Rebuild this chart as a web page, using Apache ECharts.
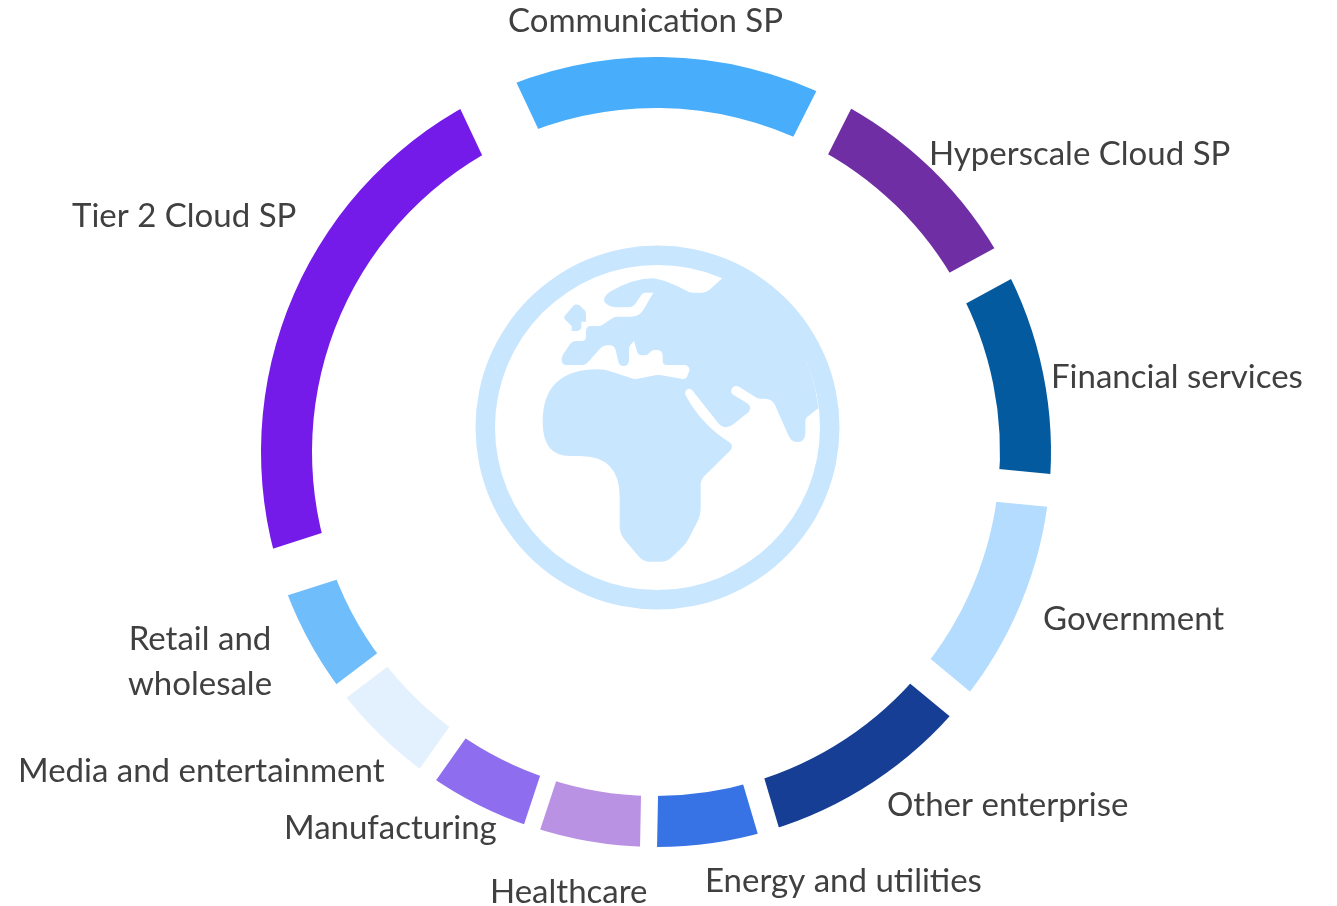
<!DOCTYPE html>
<html>
<head>
<meta charset="utf-8">
<title>Segments</title>
<style>
    html, body { margin: 0; padding: 0; background: #fff; }
    #chart { width: 1337px; height: 906px; }
</style>
<script src="https://cdn.jsdelivr.net/npm/echarts@6/dist/echarts.min.js"></script>
</head>
<body>
<div id="chart"></div>
<script>
    // share of the ring in %
    const categories = ['Communication SP', 'Hyperscale Cloud SP', 'Financial services', 'Government', 'Other enterprise',
        'Energy and utilities', 'Healthcare', 'Manufacturing', 'Media and entertainment', 'Retail and\nwholesale', 'Tier 2 Cloud SP'];
    const shares = [14.44, 9.64, 9.47, 9.47, 9.39, 4.89, 4.78, 4.72, 4.86, 5.42, 22.92];
    const colors = ['#48ADFB', '#702EA5', '#045A9E', '#B4DCFE', '#153E94', '#3873E6', '#B992E3', '#8E6DEF', '#E3F0FD', '#6FBDFB', '#741BEA'];
    // white gap after each slice, px
    const gaps = [39, 35, 33, 32, 22, 17, 17, 20, 17, 49, 62];
    // label anchors: x, y, align
    const labelSpots = [[508, 21, 'left'], [929, 154, 'left'], [1051, 377, 'left'], [1043, 619, 'left'], [887, 805, 'left'],
        [705, 881, 'left'], [490, 892, 'left'], [284, 828, 'left'], [18, 771, 'left'], [200, 662, 'center'], [72, 216, 'left']];

    const centerX = 656, centerY = 452;
    const startAngle = 115.2;
    const globeColor = '#C9E6FF';

    // globe outline (3x coords, origin 470,240)
    const landPath = 'M760 112 A487 487 0 0 1 1045 505 L1012 530 Q1006 535 1006 545 L1006 580 Q1005 606 982 606 Q965 606 956 588 L915 495 Q905 476 885 476 L870 476 Q862 476 855 470 L808 441 Q795 434 786 445 Q778 458 792 466 L832 490 Q848 502 835 517 L790 553 Q765 572 745 550 L668 452 Q660 443 650 449 Q642 456 648 468 Q695 555 780 608 Q792 618 780 632 L703 708 Q692 720 692 735 L692 800 Q692 825 682 845 L655 898 Q648 912 638 920 L606 951 Q592 965 575 965 L540 965 Q520 965 507 950 L462 897 Q449 880 449 855 L449 770 Q449 648 330 648 L300 648 Q218 648 218 545 Q218 388 385 388 Q405 388 425 395 L485 415 Q493 418 503 416 L555 406 Q565 404 575 406 L638 417 Q650 418 653 405 L658 392 Q660 378 645 375 L592 375 Q578 375 578 362 L578 345 Q575 330 562 330 L555 330 Q545 330 540 337 Q533 346 525 346 L515 346 Q505 346 502 337 L492 303 L481 315 Q477 320 477 328 L477 362 Q475 378 461 378 Q448 378 445 365 L437 330 Q433 316 420 316 L410 316 Q400 316 392 324 L355 365 Q347 375 335 375 L290 375 Q275 375 275 360 Q275 350 280 342 L300 313 Q307 303 320 303 L335 303 Q348 302 348 290 L348 272 Q350 258 362 258 L385 258 Q392 258 398 254 L428 234 Q434 230 442 230 L482 230 Q508 230 520 210 L550 158 L525 158 Q518 158 514 165 L497 190 Q490 202 475 202 L437 202 Q415 200 403 185 Q398 170 420 155 Q490 115 550 115 Q590 120 655 155 Q662 158 670 158 L695 158 Q708 158 718 150 Z ' +
        'M284 228 L310 197 Q320 190 330 197 L343 210 Q348 215 348 222 L348 245 L334 245 L334 262 Q332 273 320 273 L305 273 L305 258 L287 240 Q280 235 284 228 Z';

    const chart = echarts.init(document.getElementById('chart'));

    let total = shares.reduce((a, b) => a + b, 0);
    let running = 0;
    let gapData = shares.map((v, i) => {
        running += v;
        return [running, gaps[i]];
    });

    chart.setOption({
        animation: false,
        backgroundColor: '#fff',
        polar: { center: [centerX, centerY], radius: 420 },
        radiusAxis: { min: 0, max: 420, show: false },
        angleAxis: { type: 'value', min: 0, max: total, startAngle: startAngle, show: false },
        series: [
            {
                type: 'pie',
                center: [centerX, centerY],
                radius: [344, 395],
                startAngle: startAngle,
                clockwise: true,
                silent: true,
                avoidLabelOverlap: false,
                data: categories.map((name, i) => ({
                    name: name,
                    value: shares[i],
                    itemStyle: { color: colors[i] }
                })),
                label: {
                    show: true,
                    position: 'outside',
                    fontFamily: 'Lato',
                    fontSize: 33,
                    lineHeight: 45,
                    color: '#404040'
                },
                labelLine: { show: false },
                labelLayout: (params) => {
                    let spot = labelSpots[params.dataIndex];
                    return { x: spot[0], y: spot[1], align: spot[2], verticalAlign: 'middle', hideOverlap: false };
                }
            },
            {
                // parallel white gaps between slices
                type: 'custom',
                coordinateSystem: 'polar',
                silent: true,
                z: 3,
                clip: false,
                data: gapData,
                renderItem: (params, api) => {
                    let from = api.coord([335, api.value(0)]);
                    let to = api.coord([405, api.value(0)]);
                    return {
                        type: 'line',
                        shape: { x1: from[0], y1: from[1], x2: to[0], y2: to[1] },
                        style: { stroke: '#fff', lineWidth: api.value(1) }
                    };
                }
            },
            {
                // globe in the middle
                type: 'custom',
                coordinateSystem: 'none',
                silent: true,
                data: [[0]],
                renderItem: () => ({
                    type: 'group',
                    children: [
                        {
                            type: 'ring',
                            shape: { cx: 657.5, cy: 427.5, r: 182, r0: 162.5 },
                            style: { fill: globeColor }
                        },
                        {
                            type: 'path',
                            x: 470,
                            y: 240,
                            scaleX: 1 / 3,
                            scaleY: 1 / 3,
                            shape: { pathData: landPath },
                            style: { fill: globeColor }
                        }
                    ]
                })
            }
        ]
    });
</script>
</body>
</html>
